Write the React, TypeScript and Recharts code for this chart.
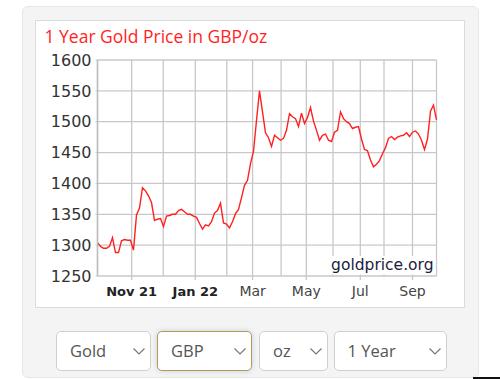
import { LineChart, Line, XAxis, YAxis, CartesianGrid } from 'recharts'

// GBP/oz, roughly one reading every few trading days
const prices = [
  1304, 1298, 1295, 1295, 1298, 1312, 1288, 1288, 1307, 1309,
  1308, 1308, 1292, 1349, 1360, 1393, 1388, 1380, 1369, 1340,
  1342, 1343, 1330, 1347, 1348, 1350, 1350, 1356, 1358, 1354,
  1350, 1350, 1347, 1345, 1335, 1326, 1333, 1331, 1338, 1352,
  1356, 1368, 1336, 1334, 1328, 1338, 1351, 1358, 1377, 1397,
  1405, 1432, 1452, 1502, 1550, 1516, 1482, 1474, 1460, 1478,
  1474, 1470, 1473, 1486, 1513, 1508, 1505, 1492, 1514, 1497,
  1507, 1523, 1501, 1486, 1470, 1478, 1480, 1470, 1468, 1483,
  1486, 1516, 1505, 1500, 1497, 1489, 1491, 1492, 1472, 1455,
  1453, 1438, 1427, 1431, 1437, 1448, 1458, 1473, 1476, 1471,
  1475, 1477, 1478, 1482, 1476, 1483, 1485, 1480, 1470, 1455,
  1472, 1517, 1527, 1503,
]

// month starts, in sample positions
const monthTicks = [0, 11.4, 21.9, 32.6, 43.1, 51.7, 61.2, 69.6, 78.5, 87.6, 95.5, 105, 113]
const monthLabels = ['', 'Nov 21', '', 'Jan 22', '', 'Mar', '', 'May', '', 'Jul', '', 'Sep', '']
const priceTicks = [1250, 1300, 1350, 1400, 1450, 1500, 1550, 1600]

const data = prices.map((price, i) => ({ i, price }))

function MonthTick(props: any) {
  const { x, y, payload } = props
  const label = monthLabels[monthTicks.indexOf(payload.value)] ?? ''
  if (!label) return <g />
  const bold = label.includes(' ')
  return (
    <g>
      <line x1={x} x2={x} y1={y - 4} y2={y} stroke="#c8c8c8" strokeWidth={1.3} />
      <text
        x={x}
        y={y + 16}
        textAnchor="middle"
        fontFamily="DejaVu Sans"
        fontSize={bold ? 13 : 14}
        fontWeight={bold ? 'bold' : 'normal'}
        fill={bold ? '#222' : '#444'}
      >
        {label}
      </text>
    </g>
  )
}

function SelectBox({ label, left, width, focused }: { label: string; left: number; width: number; focused?: boolean }) {
  return (
    <div
      style={{
        position: 'absolute',
        left,
        top: 330.5,
        width,
        height: 40.5,
        boxSizing: 'border-box',
        background: '#fff',
        border: focused ? '1.5px solid #b89a4a' : '1px solid #cfcfcf',
        borderRadius: 5,
        boxShadow: focused ? '0 0 5px rgba(120,160,220,0.45)' : 'none',
      }}
    >
      <span
        style={{
          position: 'absolute',
          left: 13,
          top: 0,
          lineHeight: '38px',
          fontFamily: 'Open Sans',
          fontSize: 16.5,
          color: '#555',
        }}
      >
        {label}
      </span>
      <svg style={{ position: 'absolute', right: 5, top: 16.5 }} width={12} height={7}>
        <polyline points="0.5,0.5 6,6 11.5,0.5" fill="none" stroke="#777" strokeWidth={1.2} />
      </svg>
    </div>
  )
}

export default function App() {
  return (
    <div style={{ position: 'absolute', left: 0, top: 0, width: 500, height: 379, background: '#fff', overflow: 'hidden' }}>
      <div
        style={{
          position: 'absolute',
          left: 21.5,
          top: 6,
          width: 457,
          height: 372,
          boxSizing: 'border-box',
          background: '#f4f4f4',
          border: '1px solid #e6e6e6',
          borderRadius: 6,
        }}
      />
      <div
        style={{
          position: 'absolute',
          left: 35,
          top: 19.5,
          width: 429.5,
          height: 288,
          boxSizing: 'border-box',
          background: '#fff',
          border: '1px solid #dcdcdc',
        }}
      />
      <div style={{ position: 'absolute', left: 0, top: 0 }}>
        <LineChart width={500} height={379} data={data} margin={{ top: 60, right: 63.5, bottom: 73, left: 0 }}>
          <CartesianGrid stroke="#c8c8c8" strokeWidth={1.3} />
          <XAxis
            type="number"
            dataKey="i"
            domain={[0, prices.length - 1]}
            ticks={monthTicks}
            interval={0}
            height={30}
            axisLine={false}
            tickLine={false}
            tickSize={4}
            tickMargin={0}
            tick={<MonthTick />}
          />
          <YAxis
            domain={[1250, 1600]}
            ticks={priceTicks}
            interval={0}
            width={97.5}
            axisLine={{ stroke: '#bdbdbd', strokeWidth: 1.5 }}
            tickLine={{ stroke: '#c8c8c8' }}
            tickSize={2}
            tickMargin={4}
            tick={{ fontFamily: 'DejaVu Sans', fontSize: 16, fill: '#333' }}
          />
          <Line
            type="linear"
            dataKey="price"
            stroke="#ff2020"
            strokeWidth={1.4}
            dot={false}
            isAnimationActive={false}
          />
        </LineChart>
      </div>
      <svg style={{ position: 'absolute', left: 0, top: 0, pointerEvents: 'none' }} width={500} height={379}>
        <text x={44.5} y={43.3} fontFamily="Open Sans" fontSize={17.5} fill="#ff1f1f">
          1 Year Gold Price in GBP/oz
        </text>
        <rect x={324} y={256} width={111.5} height={18.5} fill="#fff" />
        <text x={433.5} y={270} textAnchor="end" fontFamily="DejaVu Sans" fontSize={15.5} fill="#1c1c40">
          goldprice.org
        </text>
      </svg>
      <SelectBox label="Gold" left={56} width={95} />
      <SelectBox label="GBP" left={157} width={95} focused />
      <SelectBox label="oz" left={259} width={68.5} />
      <SelectBox label="1 Year" left={333.5} width={113} />
      <div style={{ position: 'absolute', left: 473, top: 377, width: 27, height: 2, background: '#111' }} />
    </div>
  )
}
